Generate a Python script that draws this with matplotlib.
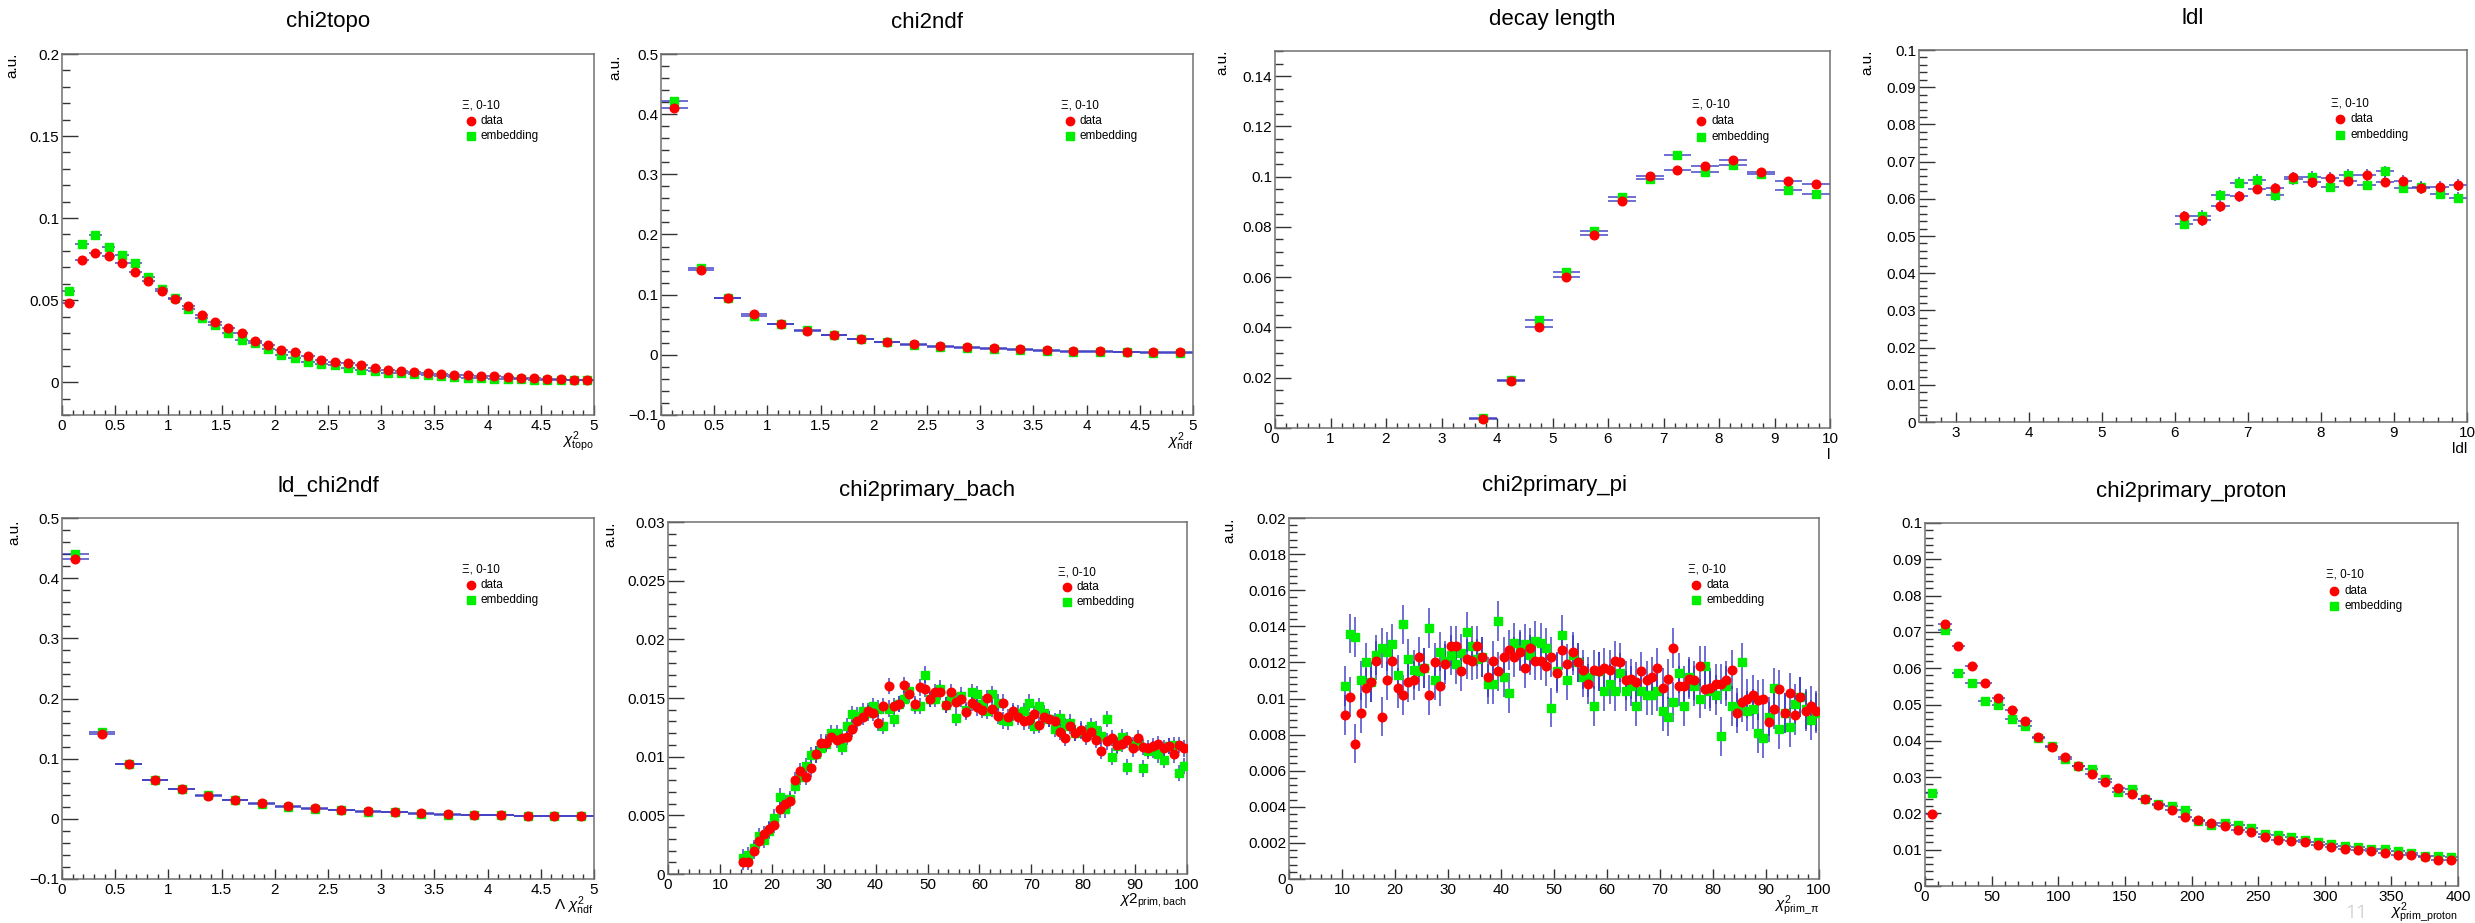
import numpy as np
import matplotlib
matplotlib.use("Agg")
import matplotlib.pyplot as plt
from matplotlib.ticker import MultipleLocator, FuncFormatter

plt.rcParams['font.family'] = ['Liberation Sans', 'DejaVu Sans']
plt.rcParams['mathtext.fontset'] = 'custom'
plt.rcParams['mathtext.rm'] = 'Liberation Sans'
plt.rcParams['mathtext.it'] = 'Liberation Sans:italic'

# ---- data (bin contents) ----
topo_data = [0.048, 0.0744, 0.0785, 0.0766, 0.0724, 0.0669, 0.0614, 0.0555, 0.0508, 0.0463,
             0.0411, 0.0368, 0.0331, 0.0297, 0.0254, 0.0224, 0.0197, 0.0181, 0.0159, 0.0138,
             0.0124, 0.0114, 0.0102, 0.0087, 0.0077, 0.0071, 0.0065, 0.0057, 0.0051, 0.0045,
             0.0041, 0.0037, 0.0035, 0.0030, 0.0026, 0.0024, 0.0022, 0.0020, 0.0016, 0.0016]
topo_emb = [0.0557, 0.0843, 0.0896, 0.0823, 0.0778, 0.0728, 0.064, 0.0565, 0.051, 0.0443,
            0.0392, 0.0348, 0.0301, 0.0256, 0.024, 0.0203, 0.0167, 0.015, 0.0124, 0.0112,
            0.0104, 0.0089, 0.0075, 0.0067, 0.0059, 0.0053, 0.0047, 0.0041, 0.0037, 0.0033,
            0.0028, 0.0024, 0.0022, 0.0020, 0.0018, 0.0016, 0.0014, 0.0014, 0.0012, 0.0012]

ndf_data = [0.411, 0.1418, 0.0941, 0.0676, 0.0515, 0.0404, 0.0327, 0.0266, 0.0221, 0.0188,
            0.0155, 0.0127, 0.0111, 0.0089, 0.0083, 0.0066, 0.0061, 0.0055, 0.0044, 0.0039]
ndf_emb = [0.4225, 0.145, 0.0947, 0.0653, 0.051, 0.041, 0.0332, 0.0255, 0.0205, 0.016,
           0.0133, 0.0116, 0.0094, 0.0083, 0.0072, 0.0055, 0.0044, 0.0039, 0.0033, 0.0028]

dl_data = [0.0037, 0.0187, 0.040, 0.0602, 0.0766, 0.0903, 0.1002, 0.1025, 0.1042, 0.1067,
           0.1018, 0.0984, 0.0969]
dl_emb = [0.0041, 0.019, 0.0431, 0.062, 0.0784, 0.0919, 0.0992, 0.1087, 0.1018, 0.1045,
          0.1009, 0.0948, 0.0932]

ldl_data = [0.0553, 0.0543, 0.058, 0.0607, 0.0627, 0.0628, 0.0658, 0.0645, 0.0656, 0.0649,
            0.0665, 0.0646, 0.0648, 0.0629, 0.0632, 0.0637]
ldl_emb = [0.0533, 0.0555, 0.0609, 0.0643, 0.0651, 0.061, 0.0653, 0.0659, 0.0632, 0.0665,
           0.0638, 0.0674, 0.063, 0.0632, 0.0614, 0.0603]

ld_data = [0.432, 0.1413, 0.0912, 0.0651, 0.0495, 0.0384, 0.0311, 0.0261, 0.0211, 0.0172,
           0.0145, 0.0122, 0.0106, 0.0089, 0.0078, 0.0067, 0.0056, 0.005, 0.0044, 0.0039]
ld_emb = [0.4394, 0.144, 0.0918, 0.0651, 0.0495, 0.039, 0.0317, 0.0245, 0.0189, 0.0167,
          0.0139, 0.0117, 0.0106, 0.0083, 0.0072, 0.0061, 0.0056, 0.005, 0.0044, 0.0039]

bach_data = [0.0010, 0.0010, 0.0020, 0.0028, 0.0034, 0.0038, 0.0042, 0.0055, 0.0060, 0.0062,
             0.0080, 0.0088, 0.0083, 0.0090, 0.0102, 0.0112, 0.0112, 0.0117, 0.0114, 0.0116,
             0.0117, 0.0124, 0.0130, 0.0134, 0.0139, 0.0137, 0.0129, 0.0143, 0.0160, 0.0143,
             0.0145, 0.0161, 0.0153, 0.0145, 0.0159, 0.0158, 0.0149, 0.0155, 0.0155, 0.0144,
             0.0155, 0.0147, 0.0149, 0.0138, 0.0146, 0.0142, 0.0140, 0.0150, 0.0141, 0.0135,
             0.0146, 0.0134, 0.0139, 0.0134, 0.0130, 0.0131, 0.0136, 0.0127, 0.0134, 0.0132,
             0.0130, 0.0121, 0.0116, 0.0126, 0.0120, 0.0123, 0.0117, 0.0121, 0.0114, 0.0105,
             0.0113, 0.0116, 0.0110, 0.0111, 0.0114, 0.0107, 0.0116, 0.0108, 0.0107, 0.0109,
             0.0111, 0.0107, 0.0109, 0.0102, 0.0110, 0.0107]
bach_emb = [0.0014, 0.0016, 0.0022, 0.0032, 0.0029, 0.0037, 0.0048, 0.0066, 0.0055, 0.0064,
            0.0075, 0.0083, 0.0092, 0.0101, 0.0102, 0.0107, 0.0111, 0.0120, 0.0120, 0.0108,
            0.0126, 0.0136, 0.0135, 0.0139, 0.0137, 0.0143, 0.0141, 0.0126, 0.0141, 0.0132,
            0.0145, 0.0149, 0.0156, 0.0143, 0.0143, 0.0170, 0.0149, 0.0149, 0.0158, 0.0144,
            0.0149, 0.0133, 0.0152, 0.0140, 0.0155, 0.0153, 0.0145, 0.0139, 0.0153, 0.0146,
            0.0131, 0.0130, 0.0137, 0.0137, 0.0139, 0.0146, 0.0126, 0.0143, 0.0137, 0.0132,
            0.0124, 0.0133, 0.0126, 0.0129, 0.0120, 0.0122, 0.0120, 0.0126, 0.0123, 0.0118,
            0.0132, 0.0100, 0.0109, 0.0117, 0.0091, 0.0110, 0.0112, 0.0090, 0.0105, 0.0106,
            0.0102, 0.0097, 0.0109, 0.0110, 0.0086, 0.0092]

pi_data = [0.0091, 0.0101, 0.0075, 0.0092, 0.0106, 0.0109, 0.0121, 0.0090, 0.0110, 0.0121,
           0.0106, 0.0102, 0.0109, 0.0110, 0.0123, 0.0117, 0.0102, 0.0120, 0.0107, 0.0119,
           0.0129, 0.0129, 0.0115, 0.0122, 0.0121, 0.0129, 0.0123, 0.0112, 0.0121, 0.0115,
           0.0123, 0.0127, 0.0123, 0.0126, 0.0117, 0.0128, 0.0121, 0.0121, 0.0118, 0.0123,
           0.0114, 0.0127, 0.0119, 0.0126, 0.0120, 0.0116, 0.0108, 0.0116, 0.0115, 0.0117,
           0.0116, 0.0121, 0.0120, 0.0110, 0.0111, 0.0109, 0.0115, 0.0110, 0.0112, 0.0117,
           0.0106, 0.0111, 0.0128, 0.0107, 0.0107, 0.0111, 0.0110, 0.0118, 0.0105, 0.0106,
           0.0108, 0.0108, 0.0110, 0.0116, 0.0092, 0.0098, 0.0100, 0.0102, 0.0099, 0.0100,
           0.0087, 0.0094, 0.0105, 0.0092, 0.0103, 0.0091, 0.0101, 0.0093, 0.0096, 0.0093]
pi_emb = [0.0107, 0.0136, 0.0134, 0.0110, 0.0120, 0.0109, 0.0124, 0.0128, 0.0126, 0.0130,
          0.0113, 0.0141, 0.0122, 0.0116, 0.0115, 0.0117, 0.0139, 0.0110, 0.0126, 0.0121,
          0.0124, 0.0119, 0.0125, 0.0137, 0.0129, 0.0122, 0.0123, 0.0108, 0.0108, 0.0143,
          0.0112, 0.0103, 0.0131, 0.0127, 0.0130, 0.0124, 0.0132, 0.0131, 0.0128, 0.0095,
          0.0115, 0.0135, 0.0110, 0.0124, 0.0120, 0.0112, 0.0112, 0.0096, 0.0115, 0.0104,
          0.0108, 0.0104, 0.0114, 0.0104, 0.0107, 0.0096, 0.0104, 0.0102, 0.0102, 0.0104,
          0.0093, 0.0090, 0.0098, 0.0114, 0.0096, 0.0112, 0.0107, 0.0100, 0.0118, 0.0104,
          0.0102, 0.0079, 0.0107, 0.0096, 0.0095, 0.0120, 0.0093, 0.0094, 0.0081, 0.0078,
          0.0090, 0.0106, 0.0083, 0.0092, 0.0084, 0.0097, 0.0101, 0.0094, 0.0088, 0.0092]

proton_data = [0.0198, 0.0721, 0.0661, 0.0607, 0.0558, 0.0517, 0.0484, 0.0454, 0.0411, 0.0383,
               0.0356, 0.0331, 0.0308, 0.0286, 0.0270, 0.0253, 0.0239, 0.0222, 0.0210, 0.0190,
               0.0181, 0.0174, 0.0166, 0.0154, 0.0149, 0.0135, 0.0128, 0.0124, 0.0120, 0.0114,
               0.0108, 0.0103, 0.0098, 0.0096, 0.0091, 0.0086, 0.0085, 0.0081, 0.0073, 0.0073]
proton_emb = [0.0255, 0.0705, 0.0586, 0.0558, 0.0510, 0.0499, 0.0461, 0.0441, 0.0408, 0.0386,
              0.0351, 0.0331, 0.0321, 0.0294, 0.0259, 0.0267, 0.0239, 0.0227, 0.0220, 0.0209,
              0.0178, 0.0169, 0.0173, 0.0167, 0.0161, 0.0143, 0.0140, 0.0135, 0.0126, 0.0121,
              0.0117, 0.0110, 0.0108, 0.0103, 0.0101, 0.0097, 0.0091, 0.0083, 0.0083, 0.0080]

W, H = 2475, 923

# title, data, emb, first bin edge, bin width, y error, xlim, ylim, x major/minor, y major/minor,
# axes box in pixels (x0, x1, y0, y1), a.u. label position, x axis label
panels = [
    dict(title="chi2topo", d=topo_data, e=topo_emb, lo=0.0, bw=0.125, err=0.0005,
         xlim=(0, 5), ylim=(-0.02, 0.2), xt=(0.5, 0.1), yt=(0.05, 0.01),
         box=(62, 594, 54, 415), au=(12, 53), xlab=r"$\chi^{2}_{\mathrm{topo}}$"),
    dict(title="chi2ndf", d=ndf_data, e=ndf_emb, lo=0.0, bw=0.25, err=0.0015,
         xlim=(0, 5), ylim=(-0.1, 0.5), xt=(0.5, 0.1), yt=(0.1, 0.02),
         box=(661, 1193, 54, 415), au=(615, 55), xlab=r"$\chi^{2}_{\mathrm{ndf}}$"),
    dict(title="decay length", d=dl_data, e=dl_emb, lo=3.5, bw=0.5, err=0.0008,
         xlim=(0, 10), ylim=(0, 0.15), xt=(1, 0.2), yt=(0.02, 0.005),
         box=(1275, 1830, 51, 428), au=(1222, 50), xlab="l"),
    dict(title="ldl", d=ldl_data, e=ldl_emb, lo=6.0, bw=0.25, err=0.0015,
         xlim=(2.5, 10), ylim=(0, 0.1), xt=(1, 0.2), yt=(0.01, 0.002),
         box=(1919, 2467, 50, 422), au=(1867, 50), xlab="ldl"),
    dict(title="ld_chi2ndf", d=ld_data, e=ld_emb, lo=0.0, bw=0.25, err=0.0015,
         xlim=(0, 5), ylim=(-0.1, 0.5), xt=(0.5, 0.1), yt=(0.1, 0.02),
         box=(62, 594, 518, 879), au=(14, 520), xlab=r"$\Lambda\ \chi^{2}_{\mathrm{ndf}}$"),
    dict(title="chi2primary_bach", d=bach_data, e=bach_emb, lo=14.0, bw=1.0, err=0.0007,
         xlim=(0, 100), ylim=(0, 0.03), xt=(10, 2), yt=(0.005, 0.001),
         box=(668, 1187, 522, 874), au=(610, 522), xlab=r"$\chi\mathrm{2}_{\mathrm{prim,bach}}$"),
    dict(title="chi2primary_pi", d=pi_data, e=pi_emb, lo=10.0, bw=1.0, err=0.0011,
         xlim=(0, 100), ylim=(0, 0.02), xt=(10, 2), yt=(0.002, 0.0004),
         box=(1289, 1819, 518, 879), au=(1229, 518), xlab=r"$\chi^{2}_{\mathrm{prim\_\pi}}$"),
    dict(title="chi2primary_proton", d=proton_data, e=proton_emb, lo=0.0, bw=10.0, err=0.0005,
         xlim=(0, 400), ylim=(0, 0.1), xt=(50, 10), yt=(0.01, 0.002),
         box=(1925, 2458, 523, 886), au=None, xlab=r"$\chi^{2}_{\mathrm{prim\_proton}}$"),
]

RED = "#ff0000"
GREEN = "#00ee00"
BLUE = "#3030c0"

fmt = FuncFormatter(lambda v, p: ("%g" % round(v, 6)).replace("-", "\u2212"))

fig = plt.figure(figsize=(W / 100, H / 100), dpi=100)
fig.patch.set_facecolor("white")

for p in panels:
    x0, x1, y0, y1 = p["box"]
    ax = fig.add_axes([x0 / W, 1 - y1 / H, (x1 - x0) / W, (y1 - y0) / H])
    hw = p["bw"] / 2
    for vals, col, mk, ms in [(p["e"], GREEN, "s", 5.5), (p["d"], RED, "o", 6.2)]:
        y = np.array(vals)
        x = p["lo"] + p["bw"] * (np.arange(len(y)) + 0.5)
        ax.errorbar(x, y, xerr=hw, yerr=p["err"], fmt="none", ecolor=BLUE,
                    elinewidth=1.3, alpha=0.75, capsize=0, zorder=2)
        ax.plot(x, y, mk, color=col, ms=ms, mec=col, zorder=3)

    ax.set_xlim(*p["xlim"])
    ax.set_ylim(*p["ylim"])
    ax.xaxis.set_major_locator(MultipleLocator(p["xt"][0]))
    ax.xaxis.set_minor_locator(MultipleLocator(p["xt"][1]))
    ax.yaxis.set_major_locator(MultipleLocator(p["yt"][0]))
    ax.yaxis.set_minor_locator(MultipleLocator(p["yt"][1]))
    ax.xaxis.set_major_formatter(fmt)
    ax.yaxis.set_major_formatter(fmt)
    ax.tick_params(which="both", direction="in", top=False, right=False,
                   labelsize=11, color="#333333", width=1.0)
    ax.tick_params(axis="y", which="major", length=11.5, pad=2)
    ax.tick_params(axis="y", which="minor", length=5.8)
    ax.tick_params(axis="x", which="major", length=7.2, pad=3)
    ax.tick_params(axis="x", which="minor", length=3.6)
    for s in ax.spines.values():
        s.set_color("#707070")
        s.set_linewidth(1.1)

    # title, a.u. and axis label
    fig.text((x0 + x1) / 2 / W, 1 - (y0 - 32) / H, p["title"], ha="center", va="center",
             fontsize=16)
    if p["au"] is not None:
        fig.text(p["au"][0] / W, 1 - p["au"][1] / H, "a.u.", rotation=90,
                 ha="center", va="top", fontsize=11)
    fig.text(x1 / W, 1 - (y1 + 27) / H, p["xlab"], ha="right", va="center", fontsize=11)

    # legend in ROOT style
    ax.text(0.752, 0.857, "\u039e, 0-10", transform=ax.transAxes, fontsize=8.5,
            va="center", ha="left")
    ax.plot([0.768], [0.814], "o", color=RED, ms=6, transform=ax.transAxes, clip_on=False)
    ax.text(0.787, 0.814, "data", transform=ax.transAxes, fontsize=8.5, va="center")
    ax.plot([0.768], [0.772], "s", color=GREEN, ms=5.5, transform=ax.transAxes, clip_on=False)
    ax.text(0.787, 0.772, "embedding", transform=ax.transAxes, fontsize=8.5, va="center")

# slide page number
fig.text(2356 / W, 1 - 922 / H, "11", ha="center", va="bottom", fontsize=14,
         color="#bdbdbd", family=["Open Sans", "DejaVu Sans"], fontweight="light")

fig.savefig("out.png", dpi=100)
